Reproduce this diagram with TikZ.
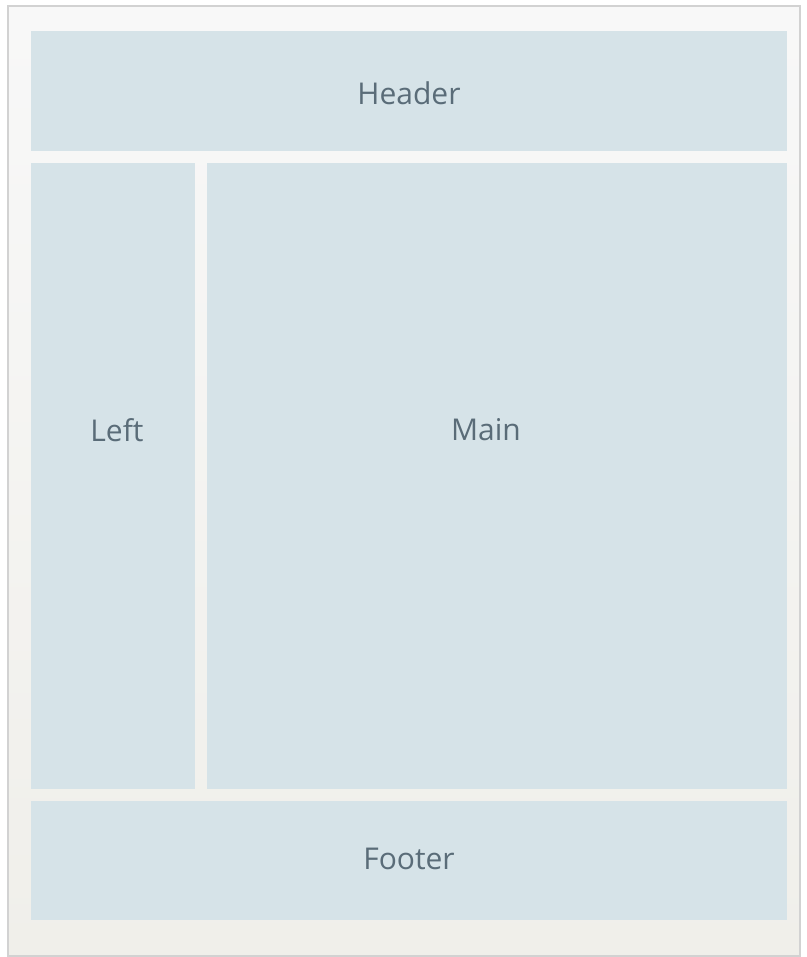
\documentclass[tikz,border=0pt]{standalone}
\usepackage{fontspec}
\setmainfont{Open Sans}
\definecolor{panel}{HTML}{D6E3E8}
\definecolor{paneltext}{HTML}{5A6C78}
\definecolor{frameline}{HTML}{D2D2D2}
\definecolor{frametop}{HTML}{F8F8F8}
\definecolor{framebot}{HTML}{F0EFEA}
\begin{document}
\begin{tikzpicture}[x=1pt,y=-1pt,
  region/.style={fill=panel,draw=none},
  label/.style={inner sep=0pt,font=\fontsize{30}{34}\selectfont,text=paneltext}]
\useasboundingbox (0,0) rectangle (806,957);
\fill[white] (0,0) rectangle (806,957);
\shade[top color=frametop,bottom color=framebot,draw=frameline,line width=1.5pt] (8,6) rectangle (800,956);
\fill[region] (31,31) rectangle (787,151);
\fill[region] (31,163) rectangle (195,789);
\fill[region] (207,163) rectangle (787,789);
\fill[region] (31,801) rectangle (787,920);
\node[label] (header) at (409,93) {Header};
\node[label] (left) at (117,430) {Left};
\node[label] (main) at (486,430) {Main};
\node[label] (footer) at (409,859) {Footer};
\end{tikzpicture}
\end{document}
